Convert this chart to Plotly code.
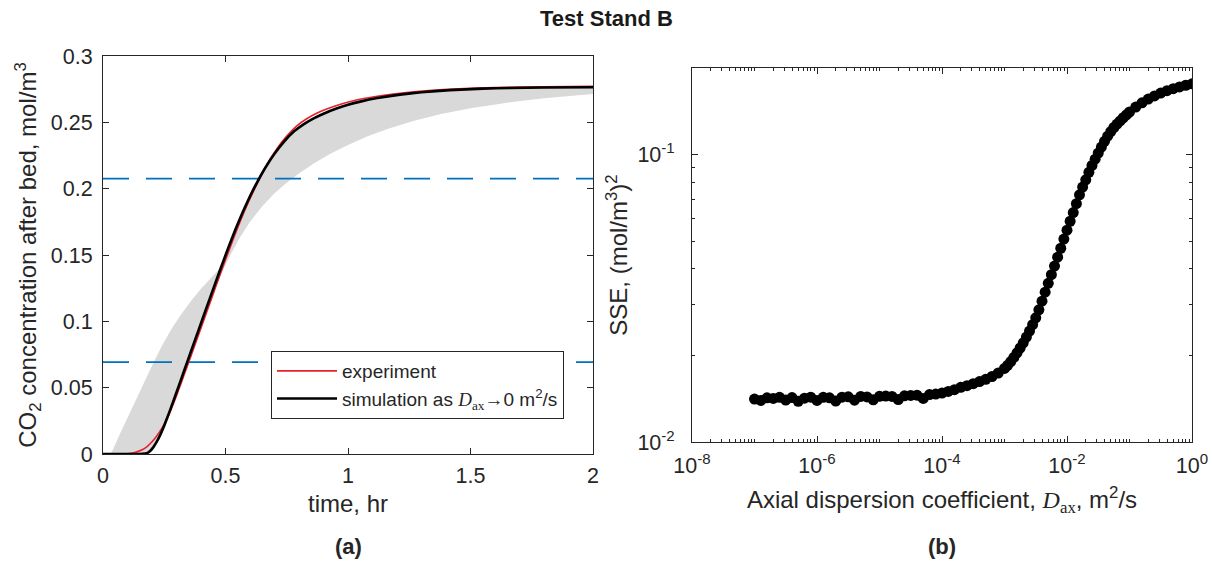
import plotly.graph_objects as go

# ---------------- data: panel (a) ----------------
t_exp = [0, 0.05, 0.10, 0.13, 0.16, 0.18, 0.20, 0.22, 0.24, 0.26, 0.28, 0.30, 0.32, 0.345, 0.37,
         0.40, 0.43, 0.46, 0.49, 0.52, 0.55, 0.58, 0.61, 0.64, 0.67, 0.71, 0.75, 0.79, 0.83, 0.87,
         0.91, 0.96, 1.01, 1.07, 1.14, 1.23, 1.33, 1.45, 1.6, 1.8, 2.0]
c_exp = [0, 0, 0.0002, 0.0012, 0.0032, 0.0056, 0.0092, 0.0138, 0.0193, 0.0260, 0.0345, 0.0440,
         0.0540, 0.0668, 0.0795, 0.0950, 0.1105, 0.1260, 0.1413, 0.1563, 0.1708, 0.1842, 0.1965,
         0.2078, 0.2185, 0.2302, 0.2396, 0.2472, 0.2525, 0.2566, 0.2598, 0.2631, 0.2657, 0.2681,
         0.2702, 0.2723, 0.2740, 0.2753, 0.2762, 0.2768, 0.2771]

t_sim = [0, 0.10, 0.15, 0.178, 0.19, 0.205, 0.22, 0.235, 0.25, 0.27, 0.29, 0.31, 0.335, 0.36,
         0.39, 0.42, 0.45, 0.48, 0.51, 0.54, 0.57, 0.60, 0.63, 0.66, 0.70, 0.74, 0.78, 0.82, 0.86,
         0.90, 0.95, 1.00, 1.05, 1.12, 1.212, 1.30, 1.416, 1.55, 1.66, 1.8, 2.0]
c_sim = [0, 0, 0, 0.0005, 0.0018, 0.0050, 0.0095, 0.0150, 0.0215, 0.0312, 0.0413, 0.0517, 0.0648,
         0.0778, 0.0934, 0.1090, 0.1245, 0.1398, 0.1548, 0.1690, 0.1822, 0.1943, 0.2052, 0.2150,
         0.2263, 0.2357, 0.2432, 0.2487, 0.2530, 0.2565, 0.2602, 0.2632, 0.2656, 0.2683, 0.2709,
         0.2727, 0.2743, 0.2754, 0.2759, 0.2763, 0.2765]

# envelope of the simulations over the range of axial dispersion coefficients
band_upper_t = [0.0, 0.03, 0.04, 0.05, 0.06, 0.08, 0.10, 0.13, 0.16, 0.20, 0.24, 0.28, 0.32,
                0.36, 0.40, 0.44, 0.48, 0.51, 0.54, 0.57, 0.60, 0.63, 0.66, 0.70, 0.74, 0.78,
                0.82, 0.86, 0.90, 0.95, 1.00, 1.05, 1.12, 1.212, 1.30, 1.416, 1.55, 1.66, 1.8, 2.0]
band_upper_c = [0.0, 0.0, 0.003, 0.0075, 0.0115, 0.0195, 0.0275, 0.039, 0.0505, 0.0665, 0.0815,
                0.0945, 0.1055, 0.1155, 0.1245, 0.1325, 0.1405, 0.1556, 0.1698, 0.1830, 0.1951,
                0.2060, 0.2158, 0.2271, 0.2365, 0.2440, 0.2495, 0.2538, 0.2573, 0.2610, 0.2640,
                0.2664, 0.2690, 0.2716, 0.2734, 0.2749, 0.2759, 0.2764, 0.2768, 0.2771]
band_lower_t = [2.0, 1.80, 1.65, 1.50, 1.38, 1.27, 1.17, 1.08, 1.00, 0.93, 0.86, 0.80, 0.75,
                0.70, 0.65, 0.60, 0.56, 0.52, 0.48, 0.45, 0.41, 0.37, 0.34, 0.31, 0.28, 0.25,
                0.225, 0.205, 0.19, 0.18, 0.0]
band_lower_c = [0.2714, 0.2682, 0.2648, 0.2606, 0.2562, 0.2512, 0.2455, 0.2395, 0.2330, 0.2265,
                0.2190, 0.2115, 0.2045, 0.1965, 0.1868, 0.1750, 0.1635, 0.1500, 0.1350, 0.1215,
                0.1010, 0.0800, 0.0640, 0.0470, 0.0325, 0.0185, 0.0090, 0.0035, 0.0008, 0.0, 0.0]

threshold_levels = [0.2075, 0.0693]   # 75 % and 25 % of saturation
time_limits = [0, 2]

# ---------------- data: panel (b) ----------------
dax_log10 = [-7.0, -6.9, -6.8, -6.7, -6.6, -6.5, -6.4, -6.3, -6.2, -6.1, -6.0, -5.9, -5.8, -5.7,
             -5.6, -5.5, -5.4, -5.3, -5.2, -5.1, -5.0, -4.9, -4.8, -4.7, -4.6, -4.5, -4.4, -4.3,
             -4.2, -4.1, -4.0,
             -3.9, -3.8, -3.7, -3.6, -3.5, -3.4, -3.3, -3.2, -3.1,
             -3.0, -2.95, -2.9, -2.85, -2.8, -2.75, -2.7, -2.65, -2.6, -2.55, -2.5, -2.45, -2.4,
             -2.35, -2.3, -2.25, -2.2, -2.15, -2.1, -2.05, -2.0, -1.95, -1.9, -1.85, -1.8, -1.75,
             -1.7, -1.65, -1.6, -1.55, -1.5, -1.45, -1.4, -1.35, -1.3, -1.25, -1.2, -1.15, -1.1,
             -1.05, -1.0,
             -0.9, -0.8, -0.7, -0.6, -0.5, -0.4, -0.3, -0.2, -0.1, 0.0]
sse = [0.01410, 0.01395, 0.01425, 0.01418, 0.01430, 0.01400, 0.01428, 0.01385, 0.01420, 0.01432,
       0.01395, 0.01430, 0.01425, 0.01388, 0.01432, 0.01436, 0.01398, 0.01440, 0.01435, 0.01402,
       0.01442, 0.01445, 0.01440, 0.01405, 0.01448, 0.01452, 0.01455, 0.01418, 0.01462, 0.01468,
       0.01480,
       0.01500, 0.01521, 0.01549, 0.01570, 0.01596, 0.01622, 0.01652, 0.01690, 0.01738,
       0.01803, 0.01849, 0.01905, 0.01968, 0.02042, 0.02123, 0.02213, 0.02317, 0.02432, 0.02559,
       0.02704, 0.02884, 0.03090, 0.03319, 0.03565, 0.03819, 0.04093, 0.04395, 0.04721, 0.05082,
       0.05458, 0.05861, 0.06281, 0.06745, 0.07244, 0.07709, 0.08166, 0.08670, 0.09162, 0.09638,
       0.10116, 0.10617, 0.11117, 0.11588, 0.12023, 0.12417, 0.12764, 0.13092, 0.13428, 0.13740,
       0.14061,
       0.14622, 0.15136, 0.15595, 0.15996, 0.16368, 0.16672, 0.16943, 0.17179, 0.17418, 0.17620]
dax = [10 ** e for e in dax_log10]

x_ticks_a = [0, 0.5, 1, 1.5, 2]
x_ticklabels_a = ["0", "0.5", "1", "1.5", "2"]
y_ticks_a = [0, 0.05, 0.1, 0.15, 0.2, 0.25, 0.3]
y_ticklabels_a = ["0", "0.05", "0.1", "0.15", "0.2", "0.25", "0.3"]
x_label_decades_b = [-8, -6, -4, -2, 0]
x_other_decades_b = [-7, -5, -3, -1]
y_decades_b = [-2, -1]

# ---------------- styling ----------------
FONT = "Liberation Sans, Arial, Helvetica, sans-serif"
SERIF = "Liberation Serif, Times New Roman, serif"
AX = "#262626"
RED = "#E8202A"
BLUE = "#0072BD"
GRAY = "#D9D9D9"

fig = go.Figure()

fig.add_trace(go.Scatter(
    x=band_upper_t + band_lower_t, y=band_upper_c + band_lower_c,
    mode="lines", fill="toself", fillcolor=GRAY, line=dict(width=0, color=GRAY),
    showlegend=False, hoverinfo="skip", xaxis="x", yaxis="y"))

for lvl in threshold_levels:
    fig.add_trace(go.Scatter(
        x=time_limits, y=[lvl, lvl], mode="lines",
        line=dict(color=BLUE, width=1.7, dash="26px,17px"),
        showlegend=False, hoverinfo="skip", xaxis="x", yaxis="y"))

fig.add_trace(go.Scatter(
    x=t_exp, y=c_exp, mode="lines", name="experiment",
    line=dict(color=RED, width=1.6, shape="spline", smoothing=0.4), xaxis="x", yaxis="y"))

sim_name = ("simulation as <i><span style='font-family:%s'>D</span></i>"
            "<sub><span style='font-family:%s'>ax</span></sub>→0 m<sup>2</sup>/s" % (SERIF, SERIF))
fig.add_trace(go.Scatter(
    x=t_sim, y=c_sim, mode="lines", name=sim_name,
    line=dict(color="black", width=2.6, shape="spline", smoothing=0.4), xaxis="x", yaxis="y"))

fig.add_trace(go.Scatter(
    x=dax, y=sse, mode="markers", showlegend=False,
    marker=dict(color="black", size=11, line=dict(width=0)),
    xaxis="x2", yaxis="y2"))

common = dict(showline=True, linecolor=AX, linewidth=1, mirror="allticks", ticks="inside",
              tickcolor=AX, tickwidth=1, showgrid=False, zeroline=False, automargin=False,
              tickfont=dict(family=FONT, size=21.5, color=AX))

x_minor = [m * 10.0 ** d for d in range(-8, 0) for m in range(2, 10)] + \
          [10.0 ** d for d in x_other_decades_b]
y_minor = [m * 10.0 ** d for d in (-2, -1) for m in range(2, 10) if m * 10.0 ** d <= 0.2001]

fig.update_layout(
    width=1212, height=565, margin=dict(l=0, r=0, t=0, b=0),
    paper_bgcolor="white", plot_bgcolor="white",
    font=dict(family=FONT, color=AX),
    showlegend=True,
    legend=dict(x=271 / 1212, y=1 - 351 / 565, xanchor="left", yanchor="top",
                bgcolor="white", bordercolor=AX, borderwidth=1, itemwidth=60,
                font=dict(family=FONT, size=19, color=AX), tracegroupgap=0),
    xaxis=dict(domain=[103 / 1212, 593 / 1212], range=[0, 2], anchor="y",
               tickmode="array", tickvals=x_ticks_a, ticktext=x_ticklabels_a, ticklen=6,
               ticklabelstandoff=2,
               title=dict(text="time, hr", font=dict(family=FONT, size=24, color=AX), standoff=8),
               **common),
    yaxis=dict(domain=[1 - 454 / 565, 1 - 56 / 565], range=[0, 0.3], anchor="x",
               tickmode="array", tickvals=y_ticks_a, ticktext=y_ticklabels_a, ticklen=6,
               ticklabelstandoff=5,
               title=dict(text="CO<sub>2</sub> concentration after bed, mol/m<sup>3</sup>",
                          font=dict(family=FONT, size=24, color=AX), standoff=7),
               **common),
    xaxis2=dict(domain=[692 / 1212, 1192 / 1212], type="log", range=[-8, 0], anchor="y2",
                tickmode="array", tickvals=[10.0 ** d for d in x_label_decades_b],
                ticktext=["10<sup>%d</sup>" % d for d in x_label_decades_b],
                ticklen=6, ticklabelstandoff=4,
                minor=dict(tickmode="array", tickvals=x_minor, ticks="inside", ticklen=3,
                           tickcolor=AX, showgrid=False),
                title=dict(text="Axial dispersion coefficient, <i><span style='font-family:%s'>D</span></i>"
                                "<sub><span style='font-family:%s'>ax</span></sub>, m<sup>2</sup>/s" % (SERIF, SERIF),
                           font=dict(family=FONT, size=24, color=AX), standoff=14),
                **common),
    yaxis2=dict(domain=[1 - 442 / 565, 1 - 68 / 565], type="log", range=[-2, -0.69897], anchor="x2",
                tickmode="array", tickvals=[10.0 ** d for d in y_decades_b],
                ticktext=["10<sup>%d</sup>" % d for d in y_decades_b],
                ticklen=6, ticklabelstandoff=12,
                minor=dict(tickmode="array", tickvals=y_minor, ticks="inside", ticklen=3,
                           tickcolor=AX, showgrid=False),
                title=dict(text="SSE, (mol/m<sup>3</sup>)<sup>2</sup>",
                           font=dict(family=FONT, size=24, color=AX), standoff=2),
                **common),
    annotations=[
        dict(text="<b>Test Stand B</b>", x=606 / 1212, y=1 - 18 / 565, xref="paper", yref="paper",
             xanchor="center", yanchor="middle", showarrow=False,
             font=dict(family=FONT, size=22, color="#1a1a1a")),
        dict(text="<b>(a)</b>", x=348 / 1212, y=1 - 546 / 565, xref="paper", yref="paper",
             xanchor="center", yanchor="middle", showarrow=False,
             font=dict(family=FONT, size=22, color=AX)),
        dict(text="<b>(b)</b>", x=942 / 1212, y=1 - 546 / 565, xref="paper", yref="paper",
             xanchor="center", yanchor="middle", showarrow=False,
             font=dict(family=FONT, size=22, color=AX)),
    ],
)

fig.write_html("out.html", config={"displayModeBar": False},
               post_script="document.body.style.margin='0';document.body.style.padding='0';"
                           "document.body.style.overflow='hidden';")
